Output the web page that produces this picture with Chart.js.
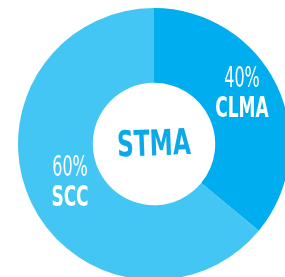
<!DOCTYPE html>
<html>
<head>
<meta charset="utf-8">
<script src="https://cdn.jsdelivr.net/npm/chart.js@4"></script>
<style>
  html, body { margin: 0; padding: 0; background: #fff; overflow: hidden; width: 285px; height: 277px; }
  #wrap { position: absolute; left: 18px; top: 8px; width: 272px; height: 272px; }
</style>
</head>
<body>
<div id="wrap"><canvas id="ring" width="272" height="272"></canvas></div>
<script>
const categories = ['CLMA', 'SCC']
const shares = [36, 64]
const shareLabels = ['40%', '60%']
const centerTitle = 'STMA'
const colors = ['#00AEEF', '#43C6F4']

// label placement relative to the ring centre (style only)
const labelSpots = [{ dx: 88, dy: -49 }, { dx: -84, dy: 40 }]
const FONT = '"DejaVu Sans Condensed", "DejaVu Sans", sans-serif'

function squeezed(ctx, text, x, y, font, sx, sy) {
    ctx.save()
    ctx.translate(x, y)
    ctx.scale(sx, sy)
    ctx.font = font
    ctx.fillText(text, 0, 0)
    ctx.restore()
}

const labelsPlugin = {
    id: 'ringLabels',
    afterDraw(chart) {
        const ctx = chart.ctx
        const arc = chart.getDatasetMeta(0).data[0]
        const cx = arc.x, cy = arc.y
        ctx.save()
        ctx.textAlign = 'center'
        ctx.textBaseline = 'middle'
        ctx.fillStyle = '#fff'

        for (let i = 0; i < categories.length; i++) {
            const x = cx + labelSpots[i].dx
            const y = cy + labelSpots[i].dy
            squeezed(ctx, shareLabels[i], x, y - 15, '27px ' + FONT, 0.66, 1.02)
            squeezed(ctx, categories[i], x, y + 15, 'bold 27px ' + FONT, 0.7, 1.02)
        }

        ctx.save()
        ctx.translate(cx, cy + 2)
        ctx.rotate(-0.035)
        ctx.scale(0.76, 1.05)
        ctx.fillStyle = '#0BA9E8'
        ctx.font = 'bold 34px ' + FONT
        ctx.fillText(centerTitle, 0, 0)
        ctx.restore()
        ctx.restore()
    }
}

new Chart(document.getElementById('ring'), {
    type: 'doughnut',
    data: {
        labels: categories,
        datasets: [{
            data: shares,
            backgroundColor: colors,
            borderWidth: 0
        }]
    },
    options: {
        responsive: false,
        animation: false,
        cutout: '45%',
        plugins: {
            legend: { display: false },
            tooltip: { enabled: false }
        }
    },
    plugins: [labelsPlugin]
})
</script>
</body>
</html>
